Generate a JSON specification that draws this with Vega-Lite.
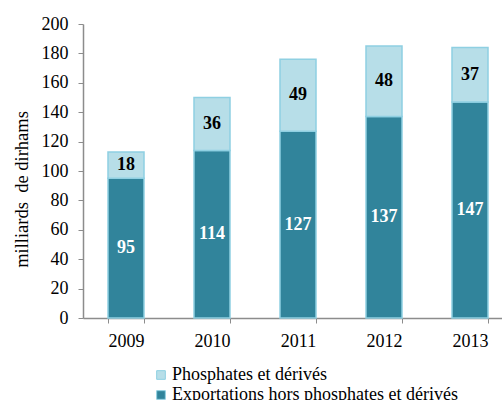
{
  "$schema": "https://vega.github.io/schema/vega-lite/v6.json",
  "autosize": "none",
  "padding": {"left": 83, "top": 24, "right": 0, "bottom": 82},
  "width": 419,
  "height": 294,
  "background": "white",
  "data": {
    "values": [
      {"year": "2009", "category": "Exportations hors phosphates et dérivés", "value": 95},
      {"year": "2009", "category": "Phosphates et dérivés", "value": 18},
      {"year": "2010", "category": "Exportations hors phosphates et dérivés", "value": 114},
      {"year": "2010", "category": "Phosphates et dérivés", "value": 36},
      {"year": "2011", "category": "Exportations hors phosphates et dérivés", "value": 127},
      {"year": "2011", "category": "Phosphates et dérivés", "value": 49},
      {"year": "2012", "category": "Exportations hors phosphates et dérivés", "value": 137},
      {"year": "2012", "category": "Phosphates et dérivés", "value": 48},
      {"year": "2013", "category": "Exportations hors phosphates et dérivés", "value": 147},
      {"year": "2013", "category": "Phosphates et dérivés", "value": 37}
    ]
  },
  "config": {
    "view": {"stroke": null},
    "font": "Liberation Serif, Times New Roman, serif",
    "axis": {"labelFont": "Liberation Serif, Times New Roman, serif", "titleFont": "Liberation Serif, Times New Roman, serif"},
    "legend": {"labelFont": "Liberation Serif, Times New Roman, serif"}
  },
  "encoding": {
    "x": {
      "field": "year", "type": "nominal",
      "scale": {"paddingInner": 0.58, "paddingOuter": 0.29, "range": [0, 430]},
      "axis": {
        "title": null, "labelAngle": 0, "labelFontSize": 18,
        "labelColor": "black", "labelPadding": 9, "domainColor": "#8c8c8c", "tickColor": "#8c8c8c",
        "tickBand": "extent", "tickSize": 5, "domainWidth": 1.5
      }
    },
    "y": {
      "field": "value", "type": "quantitative", "stack": "zero",
      "scale": {"domain": [0, 200]},
      "axis": {
        "title": "milliards\u00a0 de dirhams", "titleFontSize": 18.5,
        "titleFontWeight": "normal", "titleColor": "black",
        "titleX": -56, "titleY": 165, "titleBaseline": "alphabetic", "titleAngle": -90, "titleAlign": "center",
        "values": [0, 20, 40, 60, 80, 100, 120, 140, 160, 180, 200],
        "labelFontSize": 18, "labelColor": "black", "labelPadding": 10,
        "grid": false, "domainColor": "#8c8c8c", "tickColor": "#8c8c8c", "tickSize": 5, "domainWidth": 1.5
      }
    }
  },
  "layer": [
    {
      "mark": {"type": "bar", "size": 36, "stroke": "#8fd0e2", "strokeWidth": 1.5},
      "encoding": {
        "color": {
          "field": "category", "type": "nominal",
          "scale": {
            "domain": ["Phosphates et dérivés", "Exportations hors phosphates et dérivés"],
            "range": ["#b7dee8", "#31849b"]
          },
          "legend": {
            "title": null, "orient": "none", "legendX": 69, "legendY": 342,
            "direction": "vertical", "symbolType": "square", "symbolSize": 75,
            "symbolStrokeColor": "#8fd0e2", "symbolStrokeWidth": 1,
            "labelFontSize": 18, "labelColor": "black",
            "labelOffset": 2, "rowPadding": 2, "labelLimit": 400
          }
        },
        "order": {"field": "category", "sort": "ascending"}
      }
    },
    {
      "mark": {"type": "text", "fontSize": 18, "fontWeight": "bold", "baseline": "middle"},
      "encoding": {
        "y": {"field": "value", "type": "quantitative", "stack": "zero", "bandPosition": 0.5},
        "text": {"field": "value", "type": "quantitative"},
        "order": {"field": "category", "sort": "ascending"},
        "color": {
          "condition": {"test": "datum.category === 'Phosphates et dérivés'", "value": "black"},
          "value": "white"
        }
      }
    }
  ]
}
